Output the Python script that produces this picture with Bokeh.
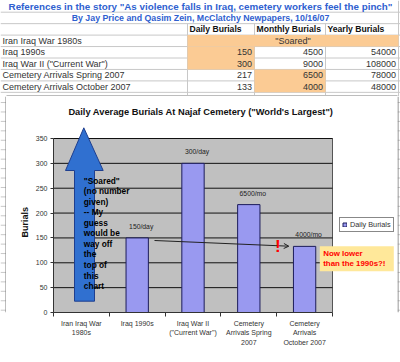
import numpy as np
from bokeh.plotting import figure
from bokeh.models import (ColumnDataSource, Range1d, LinearAxis, FixedTicker, Label, Arrow,
                          OpenHead, Legend, LegendItem, Title)
from bokeh.layouts import column, row
from bokeh.embed import file_html
from bokeh.resources import INLINE
from bokeh.core.properties import value

# ---------------- data ----------------
story_title = 'References in the story "As violence falls in Iraq, cemetery workers feel the pinch"'
story_byline = "By Jay Price and Qasim Zein, McClatchy Newpapers, 10/16/07"
col_headers = ["Daily Burials", "Monthly Burials", "Yearly Burials"]
periods = ["Iran Iraq War 1980s", "Iraq 1990s", 'Iraq War II ("Current War")',
           "Cemetery Arrivals Spring 2007", "Cemetery Arrivals October 2007"]
daily = [None, 150, 300, 217, 133]
monthly = [None, 4500, 9000, 6500, 4000]
yearly = [None, 54000, 108000, 78000, 48000]
soared_note = '"Soared"'
highlighted = [(1, 0), (2, 0), (3, 1), (4, 1)]          # (row, column) shaded cells
axis_labels = ["Iran Iraq War\n1980s", "Iraq 1990s", 'Iraq War II\n("Current War")',
               "Cemetery\nArrivals Spring\n2007", "Cemetery\nArrivals\nOctober 2007"]
bar_notes = ["", "150/day", "300/day", "6500/mo", "4000/mo"]
chart_title = 'Daily Average Burials At Najaf Cemetery ("World\'s Largest")'
y_title = "Burials"
series_name = "Daily Burials"
y_ticks = [0, 50, 100, 150, 200, 250, 300, 350]
arrow_note = ['"Soared"', "(no number", "given)", "-- My", "guess", "would be", "way off",
              "the", "top of", "this", "chart"]
callout_note = ["Now lower", "than the 1990s?!"]

# ---------------- styling ----------------
FN = "Liberation Sans"
FONT = value(FN)
ORANGE = "#FBCB94"
GRIDC = "#C8C8C8"
BOXC = "#7A7A7A"
ROW = 11.45
row_lines = [0.25 + ROW * k for k in range(40)]
col_edges = [0, 187, 254, 325, 398]
BOX_L, BOX_R = 6, 397          # chart box edges (px)

# ---------------- table (spreadsheet) ----------------
TW, TH = 400, 96
tab = figure(width=TW, height=TH, x_range=Range1d(0, TW), y_range=Range1d(TH, 0),
             output_backend="svg", toolbar_location=None, min_border=0,
             x_axis_location=None, y_axis_location=None)
tab.grid.visible = False
tab.outline_line_color = None
tab.background_fill_color = "white"

hx0, hx1, hy0, hy1 = [], [], [], []
for y in row_lines[1:9]:
    hx0.append(0); hx1.append(TW); hy0.append(y); hy1.append(y)
tab.segment(x0=hx0, x1=hx1, y0=hy0, y1=hy1, line_color=GRIDC, line_width=1)
vx, vy0, vy1 = [], [], []
for x in col_edges[1:4]:
    vx.append(x); vy0.append(row_lines[2]); vy1.append(TH)
vx.append(col_edges[4]); vy0.append(0); vy1.append(TH)
tab.segment(x0=vx, x1=vx, y0=vy0, y1=vy1, line_color=GRIDC, line_width=1)

ql, qr, qt, qb = [col_edges[1]], [col_edges[4]], [row_lines[3]], [row_lines[4]]
for r, c in highlighted:
    ql.append(col_edges[c + 1]); qr.append(col_edges[c + 2])
    qt.append(row_lines[3 + r]); qb.append(row_lines[4 + r])
tab.quad(left=ql, right=qr, top=qt, bottom=qb, fill_color=ORANGE, line_color=None)
# top edge of the chart box
tab.quad(left=[BOX_L], right=[BOX_R], top=[TH - 1.5], bottom=[TH],
         fill_color="white", line_color=None)
tab.segment(x0=[BOX_L], x1=[BOX_R], y0=[TH - 0.5], y1=[TH - 0.5], line_color=BOXC, line_width=1)

def rc(i):
    return (row_lines[i] + row_lines[i + 1]) / 2

tab.text(x=[200], y=[rc(0)], text=[story_title],
         text_align="center", text_baseline="middle", text_font=FONT,
         text_font_style="bold", text_font_size="9.8px", text_color="#2F5FD0")
tab.text(x=[200], y=[rc(1)], text=[story_byline],
         text_align="center", text_baseline="middle", text_font=FONT,
         text_font_style="bold", text_font_size="8.8px", text_color="#2F5FD0")
tab.text(x=[col_edges[i + 1] + 2 for i in range(3)], y=[rc(2)] * 3, text=col_headers,
         text_align="left", text_baseline="middle", text_font=FONT,
         text_font_style="bold", text_font_size="8.6px", text_color="#111111")
tab.text(x=[2] * len(periods), y=[rc(3 + i) for i in range(len(periods))], text=periods,
         text_align="left", text_baseline="middle", text_font=FONT,
         text_font_size="9px", text_color="#333333")
nx, ny, nt = [], [], []
for ci, series in enumerate([daily, monthly, yearly]):
    for ri, v in enumerate(series):
        if v is not None:
            nx.append(col_edges[ci + 2] - 2.5); ny.append(rc(3 + ri)); nt.append(str(v))
tab.text(x=nx, y=ny, text=nt, text_align="right", text_baseline="middle", text_font=FONT,
         text_font_size="9px", text_color="#333333")
tab.text(x=[(col_edges[1] + col_edges[4]) / 2], y=[rc(3)], text=[soared_note],
         text_align="center", text_baseline="middle", text_font=FONT,
         text_font_size="9px", text_color="#333333")

# ---------------- chart ----------------
CW, CH = BOX_R - BOX_L, 262
ML, MB = 47, 46                 # room for the axes
PW, PH = 279, 174               # size of the grey plot area in px
n = len(axis_labels)
ymax = y_ticks[-1]
x_end = n * (CW - ML) / PW
y_end = ymax * (CH - MB) / PH

def X(px):   # page px -> chart x units (for annotation placement)
    return (px - (BOX_L + ML)) * x_end / (CW - ML)

def Y(py):   # page px -> chart y units (for annotation placement)
    return (TH + CH - MB - py) * y_end / (CH - MB)

centers = np.arange(n) + 0.5                      # category slots on the x scale
src = ColumnDataSource(dict(x=centers, top=np.array(daily, dtype=float), note=bar_notes))
p = figure(width=CW, height=CH, x_range=Range1d(0, x_end), y_range=Range1d(0, y_end),
           output_backend="svg", toolbar_location=None,
           x_axis_location=None, y_axis_location="left",
           min_border_left=ML, min_border_right=0, min_border_top=0, min_border_bottom=MB,
           background_fill_color="white", border_fill_color="white")
p.outline_line_color = None
p.grid.visible = False

# grey plot area and its gridlines
p.quad(left=[0], right=[n], bottom=[0], top=[ymax], fill_color="#C0C0C0",
       line_color="#555555", line_width=1)
gl = y_ticks[1:]
p.segment(x0=[0] * len(gl), x1=[n] * len(gl), y0=gl, y1=gl, line_color="#111111", line_width=1)

p.yaxis.ticker = FixedTicker(ticks=y_ticks)
p.yaxis.bounds = (0, ymax)
p.yaxis.axis_line_color = "#333333"
p.yaxis.major_tick_line_color = "#333333"
p.yaxis.major_tick_out = 3
p.yaxis.major_tick_in = 0
p.yaxis.minor_tick_line_color = None
p.yaxis.major_label_standoff = 3
p.yaxis.major_label_text_font = FN
p.yaxis.major_label_text_font_size = "7px"
p.yaxis.major_label_text_color = "#333333"
p.add_layout(Title(text=y_title, align="left", offset=75, standoff=6,
                   text_font=FN, text_font_size="9px", text_font_style="bold",
                   text_color="#111111"), "left")

xaxis = LinearAxis(ticker=FixedTicker(ticks=list(centers), minor_ticks=list(range(n + 1))),
                   major_label_overrides={float(c): lab for c, lab in zip(centers, axis_labels)},
                   bounds=(0, n),
                   major_tick_line_color=None, major_tick_out=0, major_tick_in=0,
                   minor_tick_line_color="#333333", minor_tick_out=4, minor_tick_in=0,
                   axis_line_color="#333333", major_label_standoff=3,
                   major_label_text_font=FN, major_label_text_font_size="7px",
                   major_label_text_color="#333333", major_label_text_line_height=1.4)
p.add_layout(xaxis, "below")

bars = p.vbar(x="x", top="top", width=0.4, source=src, fill_color="#9999F0",
              line_color="#1C1C5A", line_width=1)
p.text(x="x", y="top", text="note", source=src, text_align="center", text_baseline="middle",
       x_offset=4, y_offset=-11.5, text_font=FONT, text_font_size="6.8px",
       text_color="#222222")

# chart title
p.add_layout(Label(x=X(200.5), y=Y(111.7), text=chart_title, text_align="center",
                   text_baseline="middle", text_font=FN, text_font_style="bold",
                   text_font_size="9.3px", text_color="#111111"))

# big "soared" arrow (drawn before its text so the text stays on top)
p.patch(x=[X(83.3), X(102.7), X(94), X(94), X(74), X(74), X(65)],
        y=[Y(127.3), Y(170), Y(170), Y(300.7), Y(300.7), Y(170), Y(170)],
        fill_color="#3070D0", fill_alpha=1, line_color="#1F3F8F", line_width=1)
p.text(x=[X(83.3)] * len(arrow_note), y=[Y(180 + 10.57 * i) for i in range(len(arrow_note))],
       text=arrow_note, text_align="left", text_baseline="middle", text_font=FONT,
       text_font_style="bold", text_font_size="8.3px", text_color="#000000")

# thin arrow, "!" and callout
p.add_layout(Arrow(x_start=X(154), y_start=Y(240), x_end=X(288.3), y_end=Y(245.7),
                   end=OpenHead(size=5, line_color="#222222", line_width=1),
                   line_color="#222222", line_width=1))
p.add_layout(Label(x=X(277.3), y=Y(246), text="!", text_align="center", text_baseline="middle",
                   text_font=FN, text_font_style="bold", text_font_size="17px",
                   text_color="#FF0000"))
p.quad(left=[X(319.3)], right=[X(393.3)], top=[Y(245.7)], bottom=[Y(270.7)],
       fill_color="#FFE89A", line_color=None)
p.text(x=[X(322.7)] * len(callout_note), y=[Y(253 + 10 * i) for i in range(len(callout_note))],
       text=callout_note, text_align="left", text_baseline="middle", text_font=FONT,
       text_font_style="bold", text_font_size="7.9px", text_color="#FF0000")

legend = Legend(items=[LegendItem(label=series_name, renderers=[bars])], location=(286, 80),
                glyph_width=5, glyph_height=5, padding=2, spacing=0, margin=0,
                label_standoff=3, label_height=6, label_text_font=FN,
                label_text_font_size="7.3px", label_text_color="#333333",
                border_line_color="#111111", background_fill_color="white",
                background_fill_alpha=1)
p.add_layout(legend)

# spreadsheet margins around the chart box (with the box edges)
def side_strip(w, edge_px):
    f = figure(width=w, height=CH, x_range=Range1d(0, w), y_range=Range1d(TH + CH, TH),
               output_backend="svg", toolbar_location=None, min_border=0,
               x_axis_location=None, y_axis_location=None)
    f.grid.visible = False
    f.outline_line_color = None
    ys = [y for y in row_lines if TH < y < TH + CH]
    f.segment(x0=[0] * len(ys), x1=[w] * len(ys), y0=ys, y1=ys, line_color=GRIDC)
    f.segment(x0=[edge_px], x1=[edge_px], y0=[TH], y1=[TH + CH], line_color=BOXC)
    return f

BH = 362 - TH - CH
bot = figure(width=TW, height=BH, x_range=Range1d(0, TW), y_range=Range1d(BH, 0),
             output_backend="svg", toolbar_location=None, min_border=0,
             x_axis_location=None, y_axis_location=None)
bot.grid.visible = False
bot.outline_line_color = None
bot.segment(x0=[BOX_L], x1=[BOX_R], y0=[0.5], y1=[0.5], line_color=BOXC)

layout = column(tab, row(side_strip(BOX_L, BOX_L - 0.5), p, side_strip(TW - BOX_R, 0.5)), bot)
open("out.html", "w").write(file_html(layout, INLINE, title="Najaf burials"))
